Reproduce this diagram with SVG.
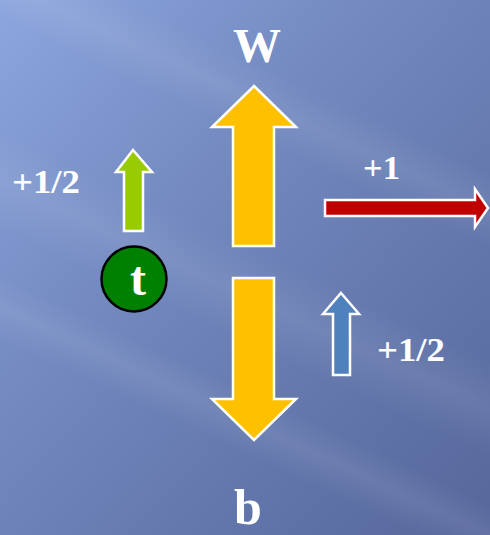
<svg xmlns="http://www.w3.org/2000/svg" width="490" height="535" viewBox="0 0 490 535">
<defs>
<linearGradient id="bg" x1="0" y1="0" x2="1" y2="1">
<stop offset="0" stop-color="#8ca6de"/>
<stop offset="0.4" stop-color="#7288bf"/>
<stop offset="1" stop-color="#55669a"/>
</linearGradient>
<linearGradient id="streak" x1="0" y1="0" x2="0" y2="1">
<stop offset="0" stop-color="#ffffff" stop-opacity="0"/>
<stop offset="0.5" stop-color="#ffffff" stop-opacity="0.08"/>
<stop offset="1" stop-color="#ffffff" stop-opacity="0"/>
</linearGradient>
<style>
.arrow{stroke:#ffffff;stroke-width:2.5;stroke-linejoin:miter}
.lbl{font-family:"Liberation Serif",serif;font-weight:bold;fill:#ffffff}
</style>
</defs>
<rect width="490" height="535" fill="url(#bg)"/>
<g transform="rotate(25 245 300)">
<rect x="-200" y="250" width="900" height="90" fill="url(#streak)"/>
<rect x="-200" y="380" width="900" height="60" fill="url(#streak)"/>
<rect x="-200" y="80" width="900" height="70" fill="url(#streak)"/>
</g>
<g id="w-arrow">
<polygon class="arrow" fill="#ffc000" points="254,86 296,127 274,127 274,246 233,246 233,127 212,127"/>
</g>
<g id="b-arrow">
<polygon class="arrow" fill="#ffc000" points="233,278 274,278 274,399 296,399 254,440 212,399 233,399"/>
</g>
<g id="green-arrow">
<polygon class="arrow" fill="#99cc00" points="133,150 152,172 143,172 143,231 124,231 124,172 116,172"/>
</g>
<g id="red-arrow">
<polygon class="arrow" fill="#c00000" points="325,200 475,200 475,189 488,208 475,227 475,216 325,216"/>
</g>
<g id="blue-arrow">
<polygon class="arrow" fill="#4f81bd" points="341,293 359,314 350,314 350,375 333,375 333,314 323,314"/>
</g>
<g id="t-node">
<circle cx="134" cy="279" r="32.5" fill="#008000" stroke="#000000" stroke-width="2.5"/>
<text class="lbl" x="138" y="295" font-size="48" text-anchor="middle">t</text>
</g>
<g id="labels">
<text class="lbl" x="257" y="62" font-size="48" text-anchor="middle">W</text>
<text class="lbl" x="248" y="524" font-size="50" text-anchor="middle">b</text>
<text class="lbl" x="12" y="193" font-size="34" textLength="68" lengthAdjust="spacingAndGlyphs">+1/2</text>
<text class="lbl" x="377" y="361" font-size="34" textLength="68" lengthAdjust="spacingAndGlyphs">+1/2</text>
<text class="lbl" x="363" y="179" font-size="34" textLength="37" lengthAdjust="spacingAndGlyphs">+1</text>
</g>
</svg>
